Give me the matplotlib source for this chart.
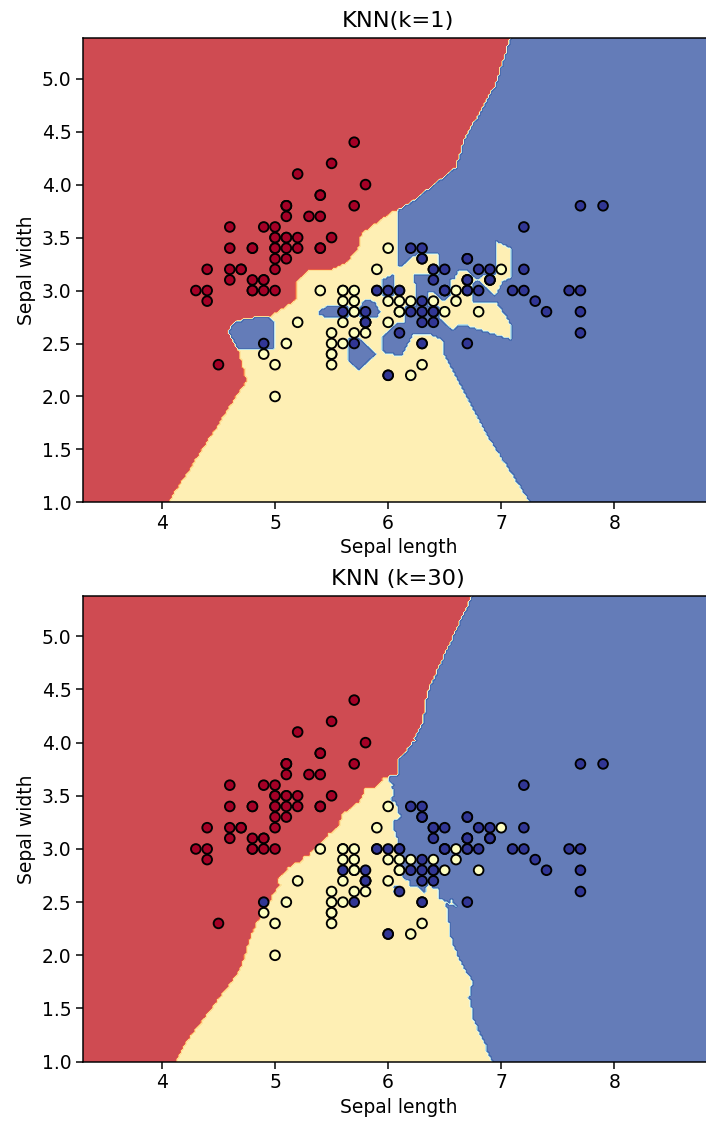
import numpy as np
import matplotlib
matplotlib.use('Agg')
import matplotlib.pyplot as plt

# iris: sepal length / sepal width, 0=setosa 1=versicolor 2=virginica
sepal_length = [
    5.1, 4.9, 4.7, 4.6, 5.0, 5.4, 4.6, 5.0, 4.4, 4.9, 5.4, 4.8, 4.8, 4.3, 5.8, 5.7, 5.4, 5.1, 5.7, 5.1,
    5.4, 5.1, 4.6, 5.1, 4.8, 5.0, 5.0, 5.2, 5.2, 4.7, 4.8, 5.4, 5.2, 5.5, 4.9, 5.0, 5.5, 4.9, 4.4, 5.1,
    5.0, 4.5, 4.4, 5.0, 5.1, 4.8, 5.1, 4.6, 5.3, 5.0,
    7.0, 6.4, 6.9, 5.5, 6.5, 5.7, 6.3, 4.9, 6.6, 5.2, 5.0, 5.9, 6.0, 6.1, 5.6, 6.7, 5.6, 5.8, 6.2, 5.6,
    5.9, 6.1, 6.3, 6.1, 6.4, 6.6, 6.8, 6.7, 6.0, 5.7, 5.5, 5.5, 5.8, 6.0, 5.4, 6.0, 6.7, 6.3, 5.6, 5.5,
    5.5, 6.1, 5.8, 5.0, 5.6, 5.7, 5.7, 6.2, 5.1, 5.7,
    6.3, 5.8, 7.1, 6.3, 6.5, 7.6, 4.9, 7.3, 6.7, 7.2, 6.5, 6.4, 6.8, 5.7, 5.8, 6.4, 6.5, 7.7, 7.7, 6.0,
    6.9, 5.6, 7.7, 6.3, 6.7, 7.2, 6.2, 6.1, 6.4, 7.2, 7.4, 7.9, 6.4, 6.3, 6.1, 7.7, 6.3, 6.4, 6.0, 6.9,
    6.7, 6.9, 5.8, 6.8, 6.7, 6.7, 6.3, 6.5, 6.2, 5.9]
sepal_width = [
    3.5, 3.0, 3.2, 3.1, 3.6, 3.9, 3.4, 3.4, 2.9, 3.1, 3.7, 3.4, 3.0, 3.0, 4.0, 4.4, 3.9, 3.5, 3.8, 3.8,
    3.4, 3.7, 3.6, 3.3, 3.4, 3.0, 3.4, 3.5, 3.4, 3.2, 3.1, 3.4, 4.1, 4.2, 3.1, 3.2, 3.5, 3.6, 3.0, 3.4,
    3.5, 2.3, 3.2, 3.5, 3.8, 3.0, 3.8, 3.2, 3.7, 3.3,
    3.2, 3.2, 3.1, 2.3, 2.8, 2.8, 3.3, 2.4, 2.9, 2.7, 2.0, 3.0, 2.2, 2.9, 2.9, 3.1, 3.0, 2.7, 2.2, 2.5,
    3.2, 2.8, 2.5, 2.8, 2.9, 3.0, 2.8, 3.0, 2.9, 2.6, 2.4, 2.4, 2.7, 2.7, 3.0, 3.4, 3.1, 2.3, 3.0, 2.5,
    2.6, 3.0, 2.6, 2.3, 2.7, 3.0, 2.9, 2.9, 2.5, 2.8,
    3.3, 2.7, 3.0, 2.9, 3.0, 3.0, 2.5, 2.9, 2.5, 3.6, 3.2, 2.7, 3.0, 2.5, 2.8, 3.2, 3.0, 3.8, 2.6, 2.2,
    3.2, 2.8, 2.8, 2.7, 3.3, 3.2, 2.8, 3.0, 2.8, 3.0, 2.8, 3.8, 2.8, 2.8, 2.6, 3.0, 3.4, 3.1, 3.0, 3.1,
    3.1, 3.1, 2.7, 3.2, 3.3, 3.0, 2.5, 3.0, 3.4, 3.0]
species = [0] * 50 + [1] * 50 + [2] * 50

neighbors = [1, 30]
titles = ['KNN(k=1)', 'KNN (k=30)']

X = np.column_stack([sepal_length, sepal_width])
y = np.array(species)

# the reference looks like a default figure scaled up by about 1.35
sc = 1.35
plt.rcParams['font.size'] = 10 * sc
plt.rcParams['axes.linewidth'] = 0.8 * sc
plt.rcParams['xtick.major.size'] = 3.5 * sc
plt.rcParams['ytick.major.size'] = 3.5 * sc
plt.rcParams['xtick.major.width'] = 0.8 * sc
plt.rcParams['ytick.major.width'] = 0.8 * sc
plt.rcParams['axes.titlepad'] = 6 * sc


def knn_predict(pts, k):
    d = ((pts[:, None, :] - X[None, :, :]) ** 2).sum(axis=2)
    idx = np.argsort(d, axis=1, kind='stable')[:, :k]
    votes = np.zeros((len(pts), 3))
    for c in range(3):
        votes[:, c] = (y[idx] == c).sum(axis=1)
    return votes.argmax(axis=1)


h = 0.02
x_min, x_max = X[:, 0].min() - 1, X[:, 0].max() + 1
y_min, y_max = X[:, 1].min() - 1, X[:, 1].max() + 1
xx, yy = np.meshgrid(np.arange(x_min, x_max, h), np.arange(y_min, y_max, h))
grid = np.c_[xx.ravel(), yy.ravel()]

fig = plt.figure(figsize=(7.06, 11.22), dpi=100)
positions = [[0.1172, 0.5522, 0.894, 0.4136], [0.1172, 0.0538, 0.894, 0.4151]]

for k, title, pos in zip(neighbors, titles, positions):
    ax = fig.add_axes(pos)
    Z = knn_predict(grid, k).reshape(xx.shape)
    ax.contourf(xx, yy, Z, cmap=plt.cm.RdYlBu, alpha=0.8)
    ax.scatter(X[:, 0], X[:, 1], c=y, cmap=plt.cm.RdYlBu, edgecolor='k',
               s=36 * sc, linewidths=1.0 * sc)
    ax.set_xlim(xx.min(), xx.max())
    ax.set_ylim(yy.min(), yy.max())
    ax.set_xticks([4, 5, 6, 7, 8])
    ax.set_title(title, fontsize=12 * sc)
    ax.set_xlabel('Sepal length')
    ax.set_ylabel('Sepal width')

fig.savefig('out.png', dpi=100)
